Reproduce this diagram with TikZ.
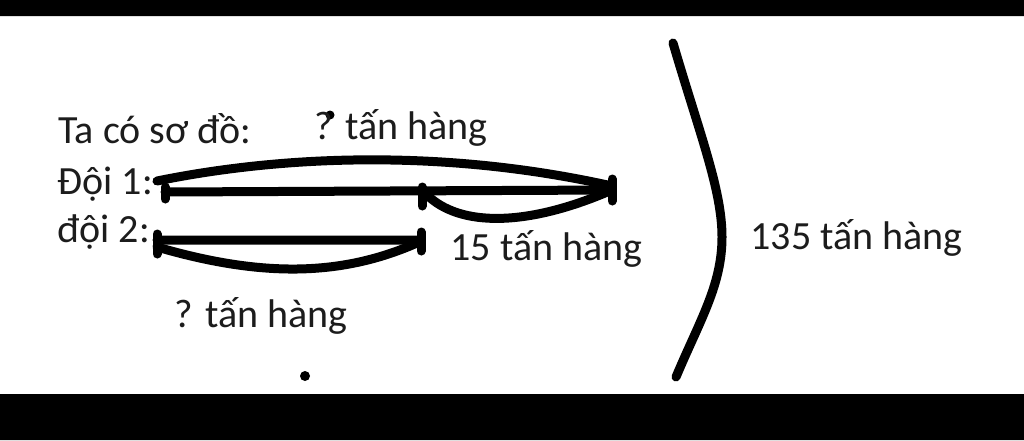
\documentclass[tikz,border=0pt]{standalone}
\usepackage{fontspec}
\setmainfont{Carlito}
\definecolor{ink}{RGB}{28,28,28}
\begin{document}
\begin{tikzpicture}[x=1pt,y=-1pt,line width=9pt,line cap=round,
	font=\fontsize{40}{48}\selectfont,
	lbl/.style={anchor=base west,inner sep=0pt,text=ink}]
		\useasboundingbox (0,0) rectangle (1024,440);
		\fill[white] (0,0) rectangle (1024,440);
		\fill[black] (0,0) rectangle (1024,16) (0,394) rectangle (1024,440);
		\path
		(165,192) coordinate (A1)
		(422,192) coordinate (M1)
		(612,190) coordinate (B1)
		(157,240) coordinate (A2)
		(421,240) coordinate (B2)
		(157,181) coordinate (T1)
		(612,186) coordinate (T2)
		(427,195) coordinate (H1)
		(612,190) coordinate (H2)
		(157,247) coordinate (D1)
		(417,243) coordinate (D2)
		(673,43) coordinate (K1)
		(722,237) coordinate (K2)
		(676,377) coordinate (K3);
		\draw (A1)--(B1) (A2)--(B2);
		\foreach \p/\u/\d in {A1/5/7,M1/5/14,B1/11/11,A2/6/14,B2/8/11} \draw (\p) ++(0,-\u) -- ++(0,\u+\d);
		\draw (T1) .. controls (300,152) and (460,152) .. (T2);
		\draw (H1) .. controls (460,227) and (527,227) .. (H2);
		\draw (D1) .. controls (260,277) and (340,277) .. (D2);
		\draw (K1) .. controls (700,135) and (722,190) .. (K2) .. controls (722,285) and (700,320) .. (K3);
		\fill (330,115) circle (4.5pt) (305,376) circle (5pt);
		\node[lbl] (intro) at (54,143) {Ta có sơ đồ:};
		\node[lbl] (doi1) at (53,194) {Đội 1:};
		\node[lbl] (doi2) at (53,242) {đội 2:};
		\node[lbl] (tong1) at (310,139) {? tấn hàng};
		\node[lbl] (hieu) at (446,260) {15 tấn hàng};
		\node[lbl] (tong2) at (170,327) {? tấn hàng};
		\node[lbl] (tong) at (746,249) {135 tấn hàng};
\end{tikzpicture}
\end{document}
